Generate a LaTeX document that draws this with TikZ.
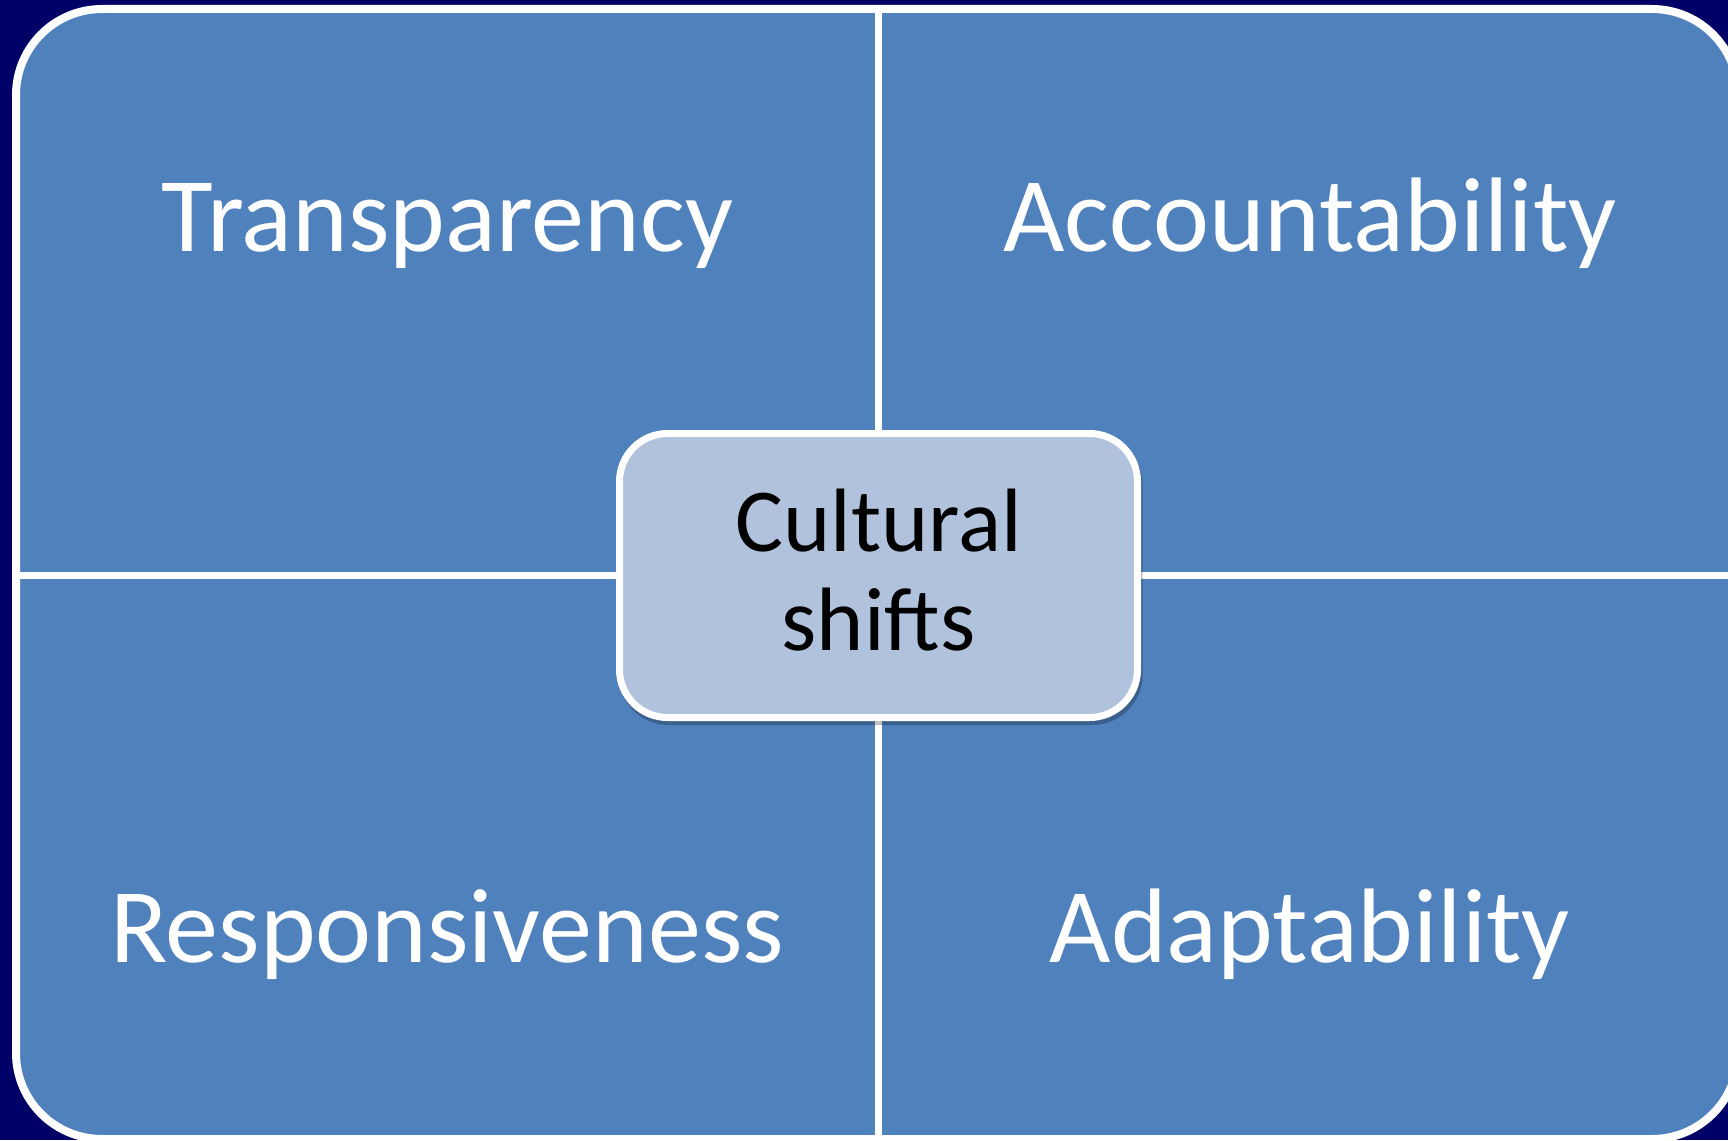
\documentclass[tikz,border=0pt]{standalone}
\usepackage{fontspec}
\setmainfont{Carlito}
\definecolor{navybg}{HTML}{000066}
\definecolor{panelblue}{HTML}{4F81BD}
\definecolor{centerblue}{HTML}{B1C2DD}
\tikzset{
  panel/.style={draw=white, line width=8pt, fill=panelblue, rounded corners=86pt},
  divider/.style={draw=white, line width=7pt},
  centerbox/.style={draw=white, line width=7pt, fill=centerblue, rounded corners=48pt,
    minimum width=518pt, minimum height=284pt, inner sep=0pt},
  shadowbox/.style={fill=black, opacity=0.25, rounded corners=50pt,
    minimum width=524pt, minimum height=290pt, inner sep=0pt},
  qtext/.style={text=white, anchor=base, inner sep=0pt, font=\fontsize{106}{116}\selectfont},
  ctext/.style={text=black, anchor=base, inner sep=0pt, font=\fontsize{90}{99}\selectfont}
}
\begin{document}
\begin{tikzpicture}[x=1pt,y=-1pt]
\useasboundingbox (0,0) rectangle (1728,1140);
\fill[navybg] (0,0) rectangle (1728,1140);
\path[panel] (16,9) rectangle (1738,1139);
\coordinate (vt) at (878,13);
\coordinate (vb) at (878,1135);
\coordinate (hl) at (20,575);
\coordinate (hr) at (1734,575);
\draw[divider] (vt) -- (vb);
\draw[divider] (hl) -- (hr);
\node[shadowbox] (shadow) at (880.5,580) {};
\node[centerbox] (center) at (878.5,575.5) {};
\node[ctext] (cult) at (878.5,551) {Cultural};
\node[ctext] (shifts) at (878.5,650) {shifts};
\node[qtext] (transp) at (447.5,251) {Transparency};
\node[qtext] (account) at (1310,251) {Accountability};
\node[qtext] (respons) at (447,962) {Responsiveness};
\node[qtext] (adapt) at (1310,962) {Adaptability};
\end{tikzpicture}
\end{document}
